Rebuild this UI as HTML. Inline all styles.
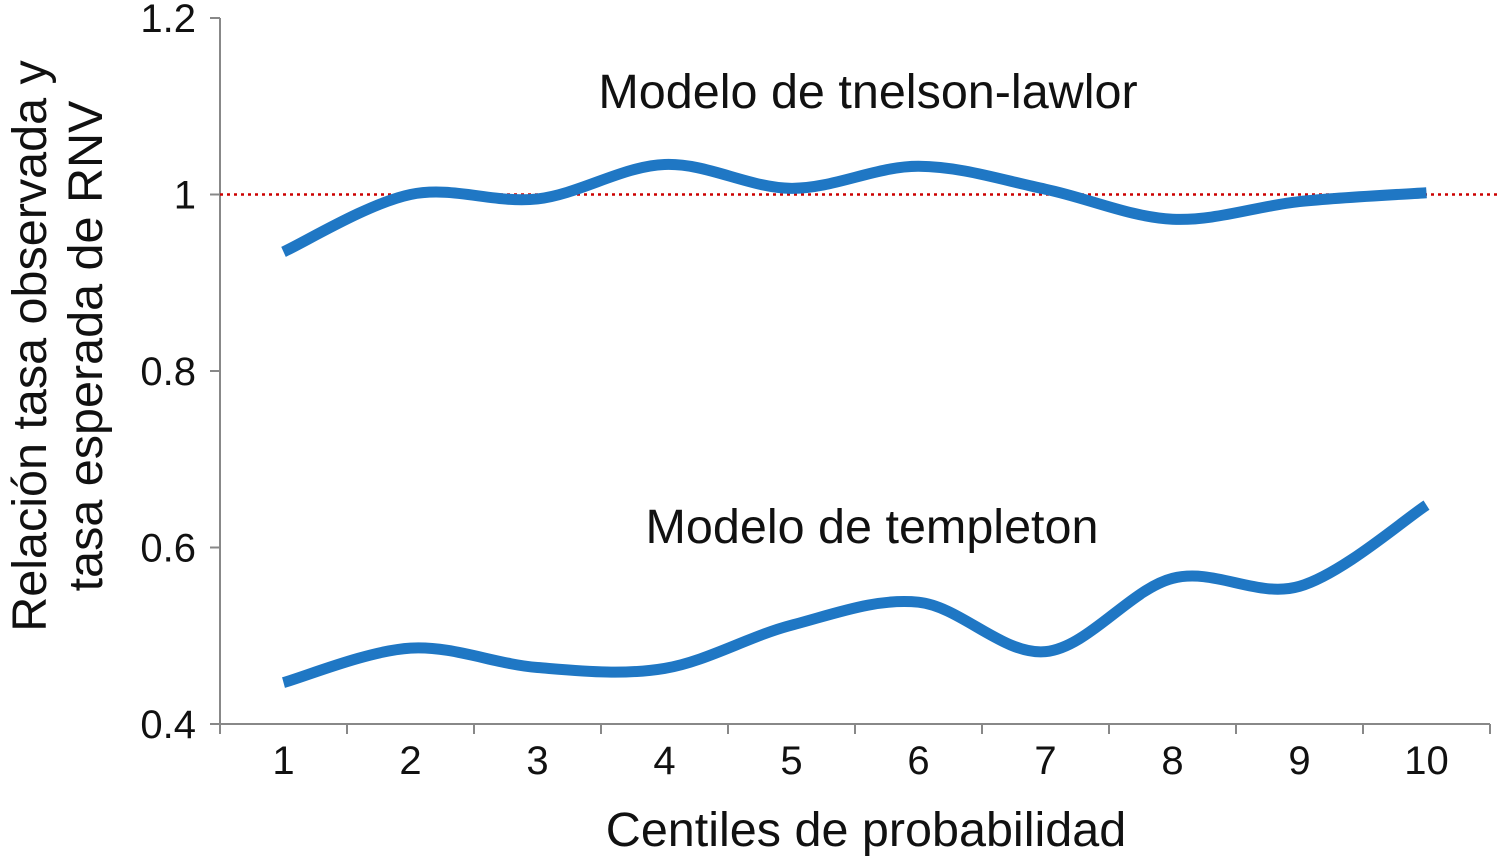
<!DOCTYPE html>
<html><head><meta charset="utf-8"><style>
body{margin:0;background:#fff}
svg{display:block;font-family:"Liberation Sans",Arial,sans-serif}
</style></head><body>
<svg id="c" width="1503" height="858" viewBox="0 0 1503 858"></svg>
<script>
const categories=['1','2','3','4','5','6','7','8','9','10'];
const tnelson=[0.935,1.0,0.995,1.034,1.007,1.032,1.006,0.972,0.992,1.002];
const templeton=[0.447,0.486,0.464,0.463,0.512,0.538,0.482,0.565,0.556,0.648];
const yTicks=[0.4,0.6,0.8,1,1.2];
const yTickLabels=['0.4','0.6','0.8','1','1.2'];
const NS='http://www.w3.org/2000/svg';
const svg=document.getElementById('c');
const x0=220,x1=1490,yTop=18,yBot=724;
const bw=(x1-x0)/categories.length;
const xs=i=>x0+bw*(i+0.5);
const ys=v=>yBot-(v-0.4)/(1.2-0.4)*(yBot-yTop);
function mk(t,a,p){const e=document.createElementNS(NS,t);for(const k in a)e.setAttribute(k,a[k]);(p||svg).appendChild(e);return e;}
const ya=mk('line',{x1:x0,y1:yTop,x2:x0,y2:yBot,stroke:'#888','stroke-width':2});

const xa=mk('line',{x1:x0,y1:yBot,x2:x1,y2:yBot,stroke:'#888','stroke-width':2});

yTicks.forEach((v,i)=>{
 mk('line',{x1:x0-10,y1:ys(v),x2:x0,y2:ys(v),stroke:'#888','stroke-width':2});
 const t=mk('text',{x:196,y:ys(v)+14,'text-anchor':'end','font-size':40,fill:'#111'});
 t.textContent=yTickLabels[i];
 
});
for(let i=0;i<=categories.length;i++)mk('line',{x1:x0+bw*i,y1:yBot,x2:x0+bw*i,y2:yBot+10,stroke:'#888','stroke-width':2});
categories.forEach((c,i)=>{
 const t=mk('text',{x:xs(i),y:774,'text-anchor':'middle','font-size':40,fill:'#111'});
 t.textContent=c;
 
});
const ref=mk('line',{x1:x0,y1:ys(1),x2:1497,y2:ys(1),stroke:'#c00','stroke-width':2.5,'stroke-dasharray':'3,4'});

function path(vals){
 const p=vals.map((v,i)=>[xs(i),ys(v)]);
 let d='M'+p[0][0]+','+p[0][1];
 for(let i=0;i<p.length-1;i++){
  const a=p[i-1]||p[i],b=p[i],c=p[i+1],e=p[i+2]||c;
  d+=` C${b[0]+(c[0]-a[0])/6},${b[1]+(c[1]-a[1])/6} ${c[0]-(e[0]-b[0])/6},${c[1]-(e[1]-b[1])/6} ${c[0]},${c[1]}`;
 }
 return d;
}
const l1=mk('path',{d:path(tnelson),fill:'none',stroke:'#1f77c4','stroke-width':11,'stroke-linecap':'butt'});

const l2=mk('path',{d:path(templeton),fill:'none',stroke:'#1f77c4','stroke-width':11,'stroke-linecap':'butt'});

function txt(s,a,n){const t=mk('text',a);t.textContent=s;return t;}
txt('Modelo de tnelson-lawlor',{x:868,y:108,'text-anchor':'middle','font-size':48.5,fill:'#111'},'tnelson-lawlor-label');
txt('Modelo de templeton',{x:872,y:543,'text-anchor':'middle','font-size':48.5,fill:'#111'},'templeton-label');
txt('Centiles de probabilidad',{x:866,y:846,'text-anchor':'middle','font-size':48.5,fill:'#111'},'x-axis-title');
txt('Relación tasa observada y',{x:-346,y:46,'text-anchor':'middle','font-size':48.5,fill:'#111',transform:'rotate(-90)'},'y-axis-title-line1');
txt('tasa esperada de RNV',{x:-346,y:102,'text-anchor':'middle','font-size':48.5,fill:'#111',transform:'rotate(-90)'},'y-axis-title-line2');
</script>
</body></html>
